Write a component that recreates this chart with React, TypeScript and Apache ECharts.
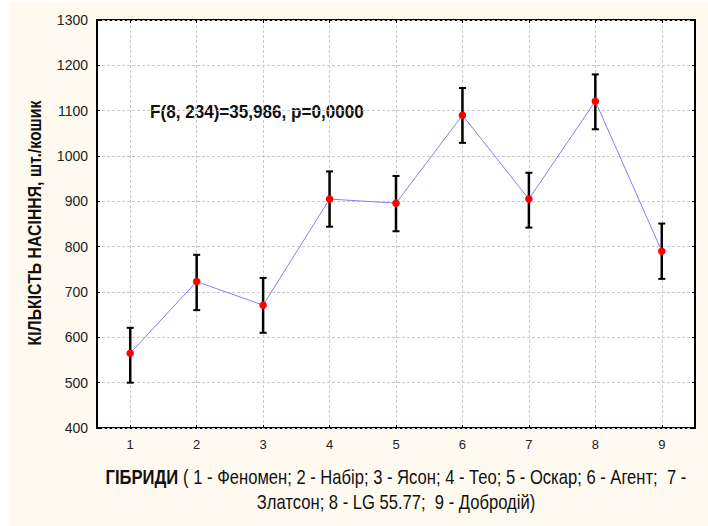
import React, { useEffect, useRef } from "react";
import * as echarts from "echarts";

const categories = [1, 2, 3, 4, 5, 6, 7, 8, 9];
const means = [565, 723, 671, 905, 896, 1090, 905, 1121, 790];
const lows = [500, 660, 610, 844, 834, 1029, 842, 1059, 729];
const highs = [621, 782, 731, 966, 956, 1150, 963, 1180, 851];
const yTicks = { min: 400, max: 1300, interval: 100 };
const statText = "F(8, 234)=35,986, p=0,0000";
const yTitle = "КІЛЬКІСТЬ НАСІННЯ, шт./кошик";
const xTitleBold = "ГІБРИДИ";
const xTitleLine1 = " ( 1 - Феномен; 2 - Набір; 3 - Ясон; 4 - Тео; 5 - Оскар; 6 - Агент;  7 -";
const xTitleLine2 = "Златсон; 8 - LG 55.77;  9 - Добродій)";

const SANS = "'Liberation Sans', Arial, sans-serif";

export default function App() {
  const ref = useRef<HTMLDivElement>(null);
  useEffect(() => {
    if (!ref.current) return;
    const chart = echarts.init(ref.current, undefined, { renderer: "svg" });
    const gridLeft = 97, gridTop = 20, gridRight = 708 - 695, gridBottom = 526 - 428;
    const cx = (97 + 695) / 2;
    chart.setOption({
      animation: false,
      backgroundColor: "#fffaef",
      grid: {
        left: gridLeft, top: gridTop, right: gridRight, bottom: gridBottom,
        show: true, backgroundColor: "#ffffff", borderColor: "#000", borderWidth: 2,
        containLabel: false,
      },
      xAxis: [
        {
          type: "value", min: 0.5, max: 9.5,
          axisLine: { show: false },
          axisTick: { show: true, inside: true, length: 3, customValues: categories, lineStyle: { color: "#000" } },
          axisLabel: { customValues: categories, margin: 10, fontSize: 13, color: "#222", fontFamily: SANS },
          splitLine: { show: true, lineStyle: { color: "#c8c8c8", type: [3, 2], width: 1 } },
        },
        {
          type: "value", min: 0.5, max: 9.5, position: "top",
          axisLine: { show: false },
          axisTick: { show: true, inside: true, length: 3, customValues: categories, lineStyle: { color: "#000" } },
          axisLabel: { show: false, customValues: categories },
          splitLine: { show: false },
        },
      ],
      yAxis: [
        {
          type: "value", min: yTicks.min, max: yTicks.max, interval: yTicks.interval,
          axisLine: { show: false },
          axisTick: { show: true, inside: true, length: 3, lineStyle: { color: "#000" } },
          axisLabel: { margin: 9, fontSize: 14, color: "#222", fontFamily: SANS, formatter: (v: number) => String(v) },
          splitLine: { show: true, lineStyle: { color: "#c8c8c8", type: [3, 2], width: 1 } },
        },
        {
          type: "value", min: yTicks.min, max: yTicks.max, interval: yTicks.interval, position: "right",
          axisLine: { show: false },
          axisTick: { show: true, inside: true, length: 3, lineStyle: { color: "#000" } },
          axisLabel: { show: false },
          splitLine: { show: false },
        },
      ],
      graphic: [
        { type: "rect", left: 0, top: 0, shape: { width: 9, height: 526 }, style: { fill: "#fff" }, silent: true },
        { type: "rect", left: 0, top: 0, shape: { width: 708, height: 2 }, style: { fill: "#fff" }, silent: true },
        {
          type: "text", x: 150, y: 112, scaleX: 0.9,
          style: { text: statText, font: `bold 19px ${SANS}`, fill: "#111", verticalAlign: "middle", align: "left" },
        },
        {
          type: "text", x: 35, y: 223, rotation: Math.PI / 2, scaleX: 0.88,
          style: { text: yTitle, font: `bold 18px ${SANS}`, fill: "#111", verticalAlign: "middle", align: "center" },
        },
        {
          type: "text", x: cx, y: 477, scaleX: 0.83,
          style: {
            text: `{b|${xTitleBold}}{r|${xTitleLine1}}`,
            align: "center", verticalAlign: "middle",
            rich: {
              b: { font: `bold 20px ${SANS}`, fill: "#111" },
              r: { font: `20px ${SANS}`, fill: "#111" },
            },
          },
        },
        {
          type: "text", x: cx, y: 502, scaleX: 0.83,
          style: { text: xTitleLine2, font: `20px ${SANS}`, fill: "#111", align: "center", verticalAlign: "middle" },
        },
      ],
      series: [
        {
          type: "custom",
          z: 3,
          renderItem: (params: any, api: any) => {
            const x = api.value(0);
            const top = api.coord([x, api.value(2)]);
            const bot = api.coord([x, api.value(1)]);
            const hw = 3.5;
            return {
              type: "group",
              children: [
                { type: "line", shape: { x1: top[0], y1: top[1], x2: bot[0], y2: bot[1] }, style: { stroke: "#000", lineWidth: 2.5 } },
                { type: "line", shape: { x1: top[0] - hw, y1: top[1], x2: top[0] + hw, y2: top[1] }, style: { stroke: "#000", lineWidth: 2 } },
                { type: "line", shape: { x1: bot[0] - hw, y1: bot[1], x2: bot[0] + hw, y2: bot[1] }, style: { stroke: "#000", lineWidth: 2 } },
              ],
            };
          },
          encode: { x: 0, y: [1, 2] },
          data: categories.map((c, i) => [c, lows[i], highs[i]]),
        },
        {
          type: "line",
          z: 5,
          data: categories.map((c, i) => [c, means[i]]),
          lineStyle: { color: "#8080ff", width: 1 },
          symbol: "circle",
          symbolSize: 7.5,
          itemStyle: { color: "#ff0000" },
        },
      ],
    });
    return () => chart.dispose();
  }, []);
  return (
    <div style={{ position: "fixed", left: 0, top: 0, width: 708, height: 526, background: "#fff" }}>
      <div ref={ref} style={{ width: 708, height: 526 }} />
    </div>
  );
}
